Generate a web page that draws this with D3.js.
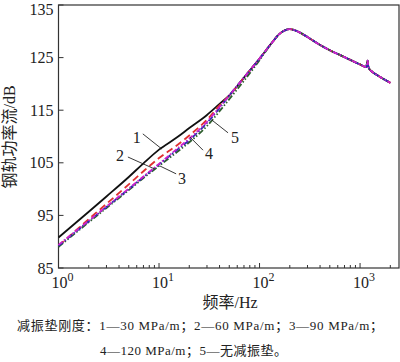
<!DOCTYPE html>
<html>
<head>
<meta charset="utf-8">
<script src="https://cdn.jsdelivr.net/npm/d3@7"></script>
<style>
  body { margin: 0; background: #fff; }
  svg { display: block; }
  .tick-label { font-family: "Liberation Serif", "Times New Roman", serif; font-size: 16px; fill: #222; }
  .axis-title { font-family: "Liberation Serif", "Noto Sans CJK SC", serif; font-size: 16px; fill: #222; }
  .caption { font-family: "Liberation Serif", "Noto Sans CJK SC", serif; font-size: 13px; fill: #222; }
  .ann { font-family: "Liberation Serif", serif; font-size: 16px; fill: #222; }
</style>
</head>
<body>
<div id="chart"></div>
<script>
// frequencies (Hz) for the low part, where curves differ
const lowFreq = [1, 2, 3, 5, 7, 10, 15, 20, 30, 40];
// shared high-frequency part
const highFreq = [50, 70, 100, 130, 160, 200, 250, 300, 400, 500, 700, 1000, 1150, 1190, 1205, 1240, 1300, 1500, 2000];
const highCommon = [117.8, 121.2, 124.8, 127.6, 129.6, 130.4, 129.8, 128.9, 127.4, 126.4, 125.1, 123.7, 123.2, 124.4, 123.4, 122.8, 122.4, 121.6, 120.2];

const low1 = [90.8, 95.7, 98.6, 102.3, 104.9, 107.5, 109.8, 111.6, 114.1, 116.2];
const low2 = [89.2, 94.3, 97.2, 100.9, 103.4, 105.9, 108.3, 110.2, 113.2, 115.9];
const low3 = [89.2, 93.9, 96.6, 100.0, 102.3, 104.7, 107.4, 109.3, 112.6, 115.4];
const low4 = [89.4, 94.0, 96.7, 100.1, 102.4, 104.8, 107.6, 109.6, 112.8, 115.6];
const low5 = [89.0, 93.7, 96.4, 99.8, 102.1, 104.4, 107.0, 108.9, 112.0, 114.8];
// curve 5 sits slightly below near 50-100 Hz
const high5 = [117.1, 120.6, 124.5];

const yTicks = [85, 95, 105, 115, 125, 135];
const xMajor = [1, 10, 100, 1000];
const xExp = ["0", "1", "2", "3"];

const labels = ["1", "2", "3", "4", "5"];
// label text centres [freq, dB]
const annText = [[6.0, 109.9], [4.1, 106.5], [16.9, 102.1], [31.4, 106.7], [57.1, 109.9]];
// leader lines [[freq, dB], [freq, dB]]
const annLeader = [
  [[6.9, 110.5], [10.7, 107.6]],
  [[4.9, 106.1], [9.1, 103.8]],
  [[10.2, 104.4], [14.8, 102.9]],
  [[20.3, 109.9], [27.4, 107.4]],
  [[33.7, 113.1], [48.6, 110.7]]
];

const colors = ["#111111", "#e03030", "#2b2bb0", "#cc22cc", "#2f5f2f"];
const dashes = [null, "7,4", "6,2,1.5,2", "5,2,1.5,2", "6,2,1.5,2,1.5,2"];
const drawOrder = [0, 1, 4, 2, 3];

const captionLines = [
  "减振垫刚度：1—30 MPa/m；2—60 MPa/m；3—90 MPa/m；",
  "4—120 MPa/m；5—无减振垫。"
];

const W = 400, H = 362;
const margin = { top: 5, right: 1, bottom: 94, left: 58.5 };
const width = W - margin.left - margin.right;
const height = H - margin.top - margin.bottom;

const svg = d3.select("#chart").append("svg").attr("width", W).attr("height", H);
const g = svg.append("g").attr("transform", "translate(" + margin.left + "," + margin.top + ")");

const x = d3.scaleLog().domain([1, 2440]).range([0, width]);
const y = d3.scaleLinear().domain([85, 135]).range([height, 0]);

function buildSeries(low, i) {
  const pts = lowFreq.map((f, k) => ({ f: f, v: low[k] }));
  highFreq.forEach((f, k) => {
    let v = highCommon[k];
    if (i === 4 && k < high5.length) v = high5[k];
    pts.push({ f: f, v: v });
  });
  return pts;
}
const series = [low1, low2, low3, low4, low5].map(buildSeries);

const line = d3.line()
  .x(d => x(d.f))
  .y(d => y(d.v))
  .curve(d3.curveMonotoneX);

// frame
g.append("rect")
  .attr("width", width).attr("height", height)
  .attr("fill", "none").attr("stroke", "#333").attr("stroke-width", 1.2);

// y ticks (inward)
yTicks.forEach(t => {
  g.append("line").attr("x1", 0).attr("x2", 5).attr("y1", y(t)).attr("y2", y(t))
    .attr("stroke", "#333").attr("stroke-width", 1);
  g.append("text").attr("class", "tick-label")
    .attr("x", -5).attr("y", y(t)).attr("dy", t === 135 ? "0.6em" : "0.35em")
    .attr("text-anchor", "end").text(t);
});

// x ticks: major + minor (inward)
const minor = [];
[1, 10, 100, 1000].forEach(b => {
  for (let m = 2; m <= 9; m++) if (b * m <= 2000) minor.push(b * m);
});
minor.forEach(f => {
  g.append("line").attr("x1", x(f)).attr("x2", x(f)).attr("y1", height).attr("y2", height - 3)
    .attr("stroke", "#333").attr("stroke-width", 1);
});
xMajor.forEach((f, i) => {
  g.append("line").attr("x1", x(f)).attr("x2", x(f)).attr("y1", height).attr("y2", height - 5)
    .attr("stroke", "#333").attr("stroke-width", 1);
  const t = g.append("text").attr("class", "tick-label")
    .attr("x", x(f) + 4).attr("y", height + 20).attr("text-anchor", "middle");
  t.append("tspan").text("10");
  t.append("tspan").attr("dy", -7).attr("font-size", "12px").text(xExp[i]);
});

// curves
drawOrder.forEach(i => {
  g.append("path")
    .datum(series[i])
    .attr("fill", "none")
    .attr("stroke", colors[i])
    .attr("stroke-width", 1.8)
    .attr("stroke-dasharray", dashes[i])
    .attr("d", line);
});

// annotations
labels.forEach((lab, i) => {
  const a = annLeader[i];
  g.append("line")
    .attr("x1", x(a[0][0])).attr("y1", y(a[0][1]))
    .attr("x2", x(a[1][0])).attr("y2", y(a[1][1]))
    .attr("stroke", "#222").attr("stroke-width", 0.9);
  g.append("text").attr("class", "ann")
    .attr("x", x(annText[i][0])).attr("y", y(annText[i][1])).attr("dy", "0.35em")
    .attr("text-anchor", "middle").text(lab);
});

// axis titles
g.append("text").attr("class", "axis-title")
  .attr("x", 230 - margin.left).attr("y", height + 40)
  .attr("text-anchor", "middle").text("频率/Hz");
svg.append("text").attr("class", "axis-title")
  .attr("transform", "translate(15," + 137 + ") rotate(-90)")
  .attr("text-anchor", "middle").text("钢轨功率流/dB");

// caption
svg.append("text").attr("class", "caption").attr("x", 17).attr("y", 330)
  .attr("textLength", 366).attr("lengthAdjust", "spacing").text(captionLines[0]);
svg.append("text").attr("class", "caption").attr("x", 100).attr("y", 355)
  .attr("textLength", 187).attr("lengthAdjust", "spacing").text(captionLines[1]);
</script>
</body>
</html>
